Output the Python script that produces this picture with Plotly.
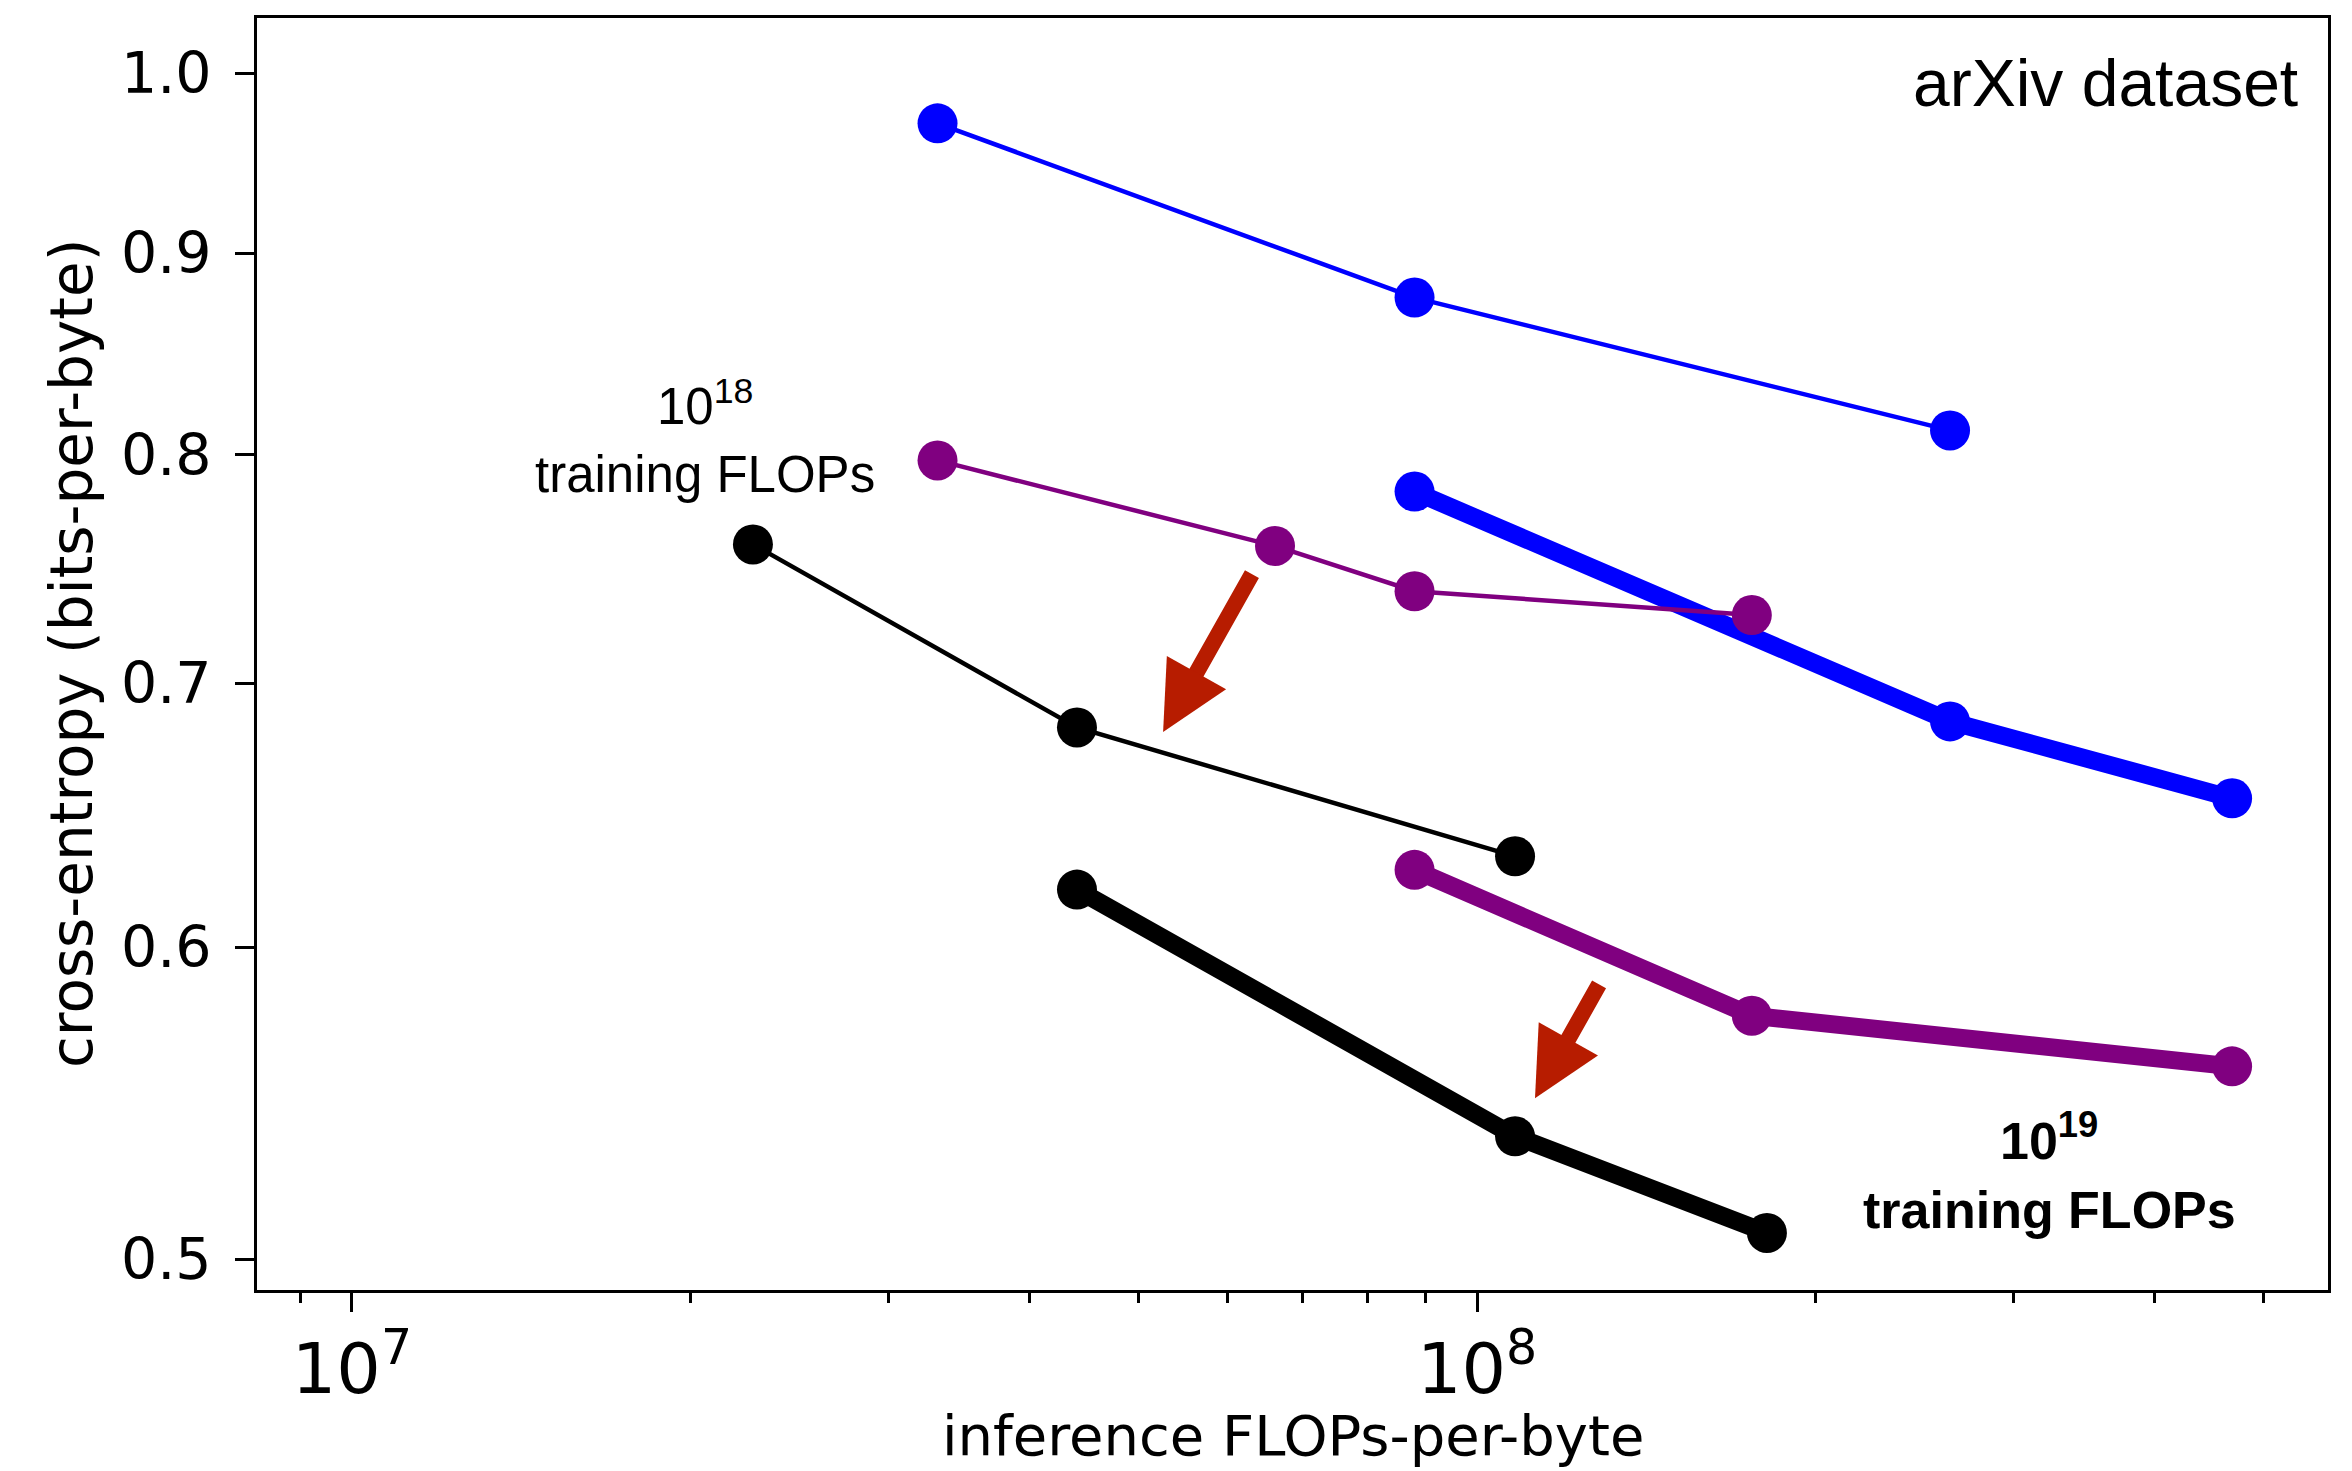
import plotly.graph_objects as go
import numpy as np

# ---- data ----
blue_thin_x = [3.315e7, 8.80e7, 2.633e8]
blue_thin_y = [0.971, 0.877, 0.8115]
blue_thick_x = [8.80e7, 2.633e8, 4.69e8]
blue_thick_y = [0.783, 0.6846, 0.6545]

purple_thin_x = [3.315e7, 6.614e7, 8.80e7, 1.755e8]
purple_thin_y = [0.7974, 0.7585, 0.7387, 0.7285]
purple_thick_x = [8.80e7, 1.755e8, 4.69e8]
purple_thick_y = [0.6277, 0.5764, 0.5596]

black_thin_x = [2.272e7, 4.41e7, 1.081e8]
black_thin_y = [0.7592, 0.6822, 0.6327]
black_thick_x = [4.41e7, 1.081e8, 1.81e8]
black_thick_y = [0.6205, 0.5372, 0.5077]

y_ticks = [0.5, 0.6, 0.7, 0.8, 0.9, 1.0]
y_tick_labels = ["0.5", "0.6", "0.7", "0.8", "0.9", "1.0"]

x_title = "inference FLOPs-per-byte"
y_title = "cross-entropy (bits-per-byte)"

# arrows: (tail_x, tail_y, tip_x, tip_y) in data units
arrows = [
    (6.32e7, 0.7468, 5.26e7, 0.6804),
    (1.286e8, 0.5876, 1.126e8, 0.5493),
]

BLUE = "#0000FF"
PURPLE = "#800080"
BLACK = "#000000"
RED = "#B71C00"

fig = go.Figure()

def add_series(x, y, color, width):
    fig.add_trace(go.Scatter(
        x=x, y=y, mode="lines+markers",
        line=dict(color=color, width=width),
        marker=dict(color=color, size=40, line=dict(width=0)),
        showlegend=False,
    ))

add_series(blue_thin_x, blue_thin_y, BLUE, 4.5)
add_series(blue_thick_x, blue_thick_y, BLUE, 18)
add_series(purple_thin_x, purple_thin_y, PURPLE, 4.5)
add_series(purple_thick_x, purple_thick_y, PURPLE, 18)
add_series(black_thin_x, black_thin_y, BLACK, 4.5)
add_series(black_thick_x, black_thick_y, BLACK, 18)

annotations = []
for tx, ty, hx, hy in arrows:
    annotations.append(dict(
        x=np.log10(hx), y=np.log10(hy), ax=np.log10(tx), ay=np.log10(ty),
        xref="x", yref="y", axref="x", ayref="y",
        showarrow=True, arrowhead=2, arrowsize=0.85, arrowwidth=16,
        arrowcolor=RED, text="", standoff=0,
    ))

LAB = "Liberation Sans"
DJ = "DejaVu Sans"
annotations += [
    dict(text="10<sup>18</sup>", x=0.2163, y=0.697, xref="paper", yref="paper",
         showarrow=False, xanchor="center", yanchor="middle",
         font=dict(family=LAB, size=51, color="black")),
    dict(text="training FLOPs", x=0.2163, y=0.641, xref="paper", yref="paper",
         showarrow=False, xanchor="center", yanchor="middle",
         font=dict(family=LAB, size=51, color="black")),
    dict(text="<b>10<sup>19</sup></b>", x=0.8653, y=0.1205, xref="paper", yref="paper",
         showarrow=False, xanchor="center", yanchor="middle",
         font=dict(family=LAB, size=52, color="black")),
    dict(text="<b>training FLOPs</b>", x=0.8653, y=0.0629, xref="paper", yref="paper",
         showarrow=False, xanchor="center", yanchor="middle",
         font=dict(family=LAB, size=52, color="black")),
    dict(text="arXiv dataset", x=0.9865, y=0.949, xref="paper", yref="paper",
         showarrow=False, xanchor="right", yanchor="middle",
         font=dict(family=LAB, size=66, color="black")),
    dict(text=x_title, x=0.5, y=-0.1145, xref="paper", yref="paper",
         showarrow=False, xanchor="center", yanchor="middle",
         font=dict(family=DJ, size=56, color="black")),
    dict(text=y_title, x=-0.0893, y=0.5, xref="paper", yref="paper",
         showarrow=False, xanchor="center", yanchor="middle", textangle=-90,
         font=dict(family=DJ, size=58, color="black")),
]

fig.update_layout(
    width=2352, height=1471,
    margin=dict(l=257, r=24, t=18, b=181),
    paper_bgcolor="white", plot_bgcolor="white",
    annotations=annotations,
    font=dict(family=DJ, size=56, color="black"),
)

fig.update_xaxes(
    type="log", range=[6.9156, 8.7564], automargin=False,
    showgrid=False, zeroline=False,
    showline=True, mirror=True, linecolor="black", linewidth=3,
    ticks="outside", ticklen=19, tickwidth=3, tickcolor="black",
    dtick=1, exponentformat="power",
    tickfont=dict(family=DJ, size=56, color="black"),
    minor=dict(ticks="outside", ticklen=10, tickwidth=2.5, tickcolor="black",
               dtick="D1", showgrid=False),
)
fig.update_yaxes(
    type="log", range=[-0.30888, 0.01396], automargin=False,
    showgrid=False, zeroline=False,
    showline=True, mirror=True, linecolor="black", linewidth=3,
    ticks="outside", ticklen=19, tickwidth=3, tickcolor="black",
    tickvals=y_ticks, ticktext=y_tick_labels,
    tickfont=dict(family=DJ, size=57, color="black"),
    ticklabelstandoff=12,
)

fig.write_html(
    "out.html",
    config={"displayModeBar": False},
    post_script="document.body.style.margin='0';document.body.style.overflow='hidden';",
)
